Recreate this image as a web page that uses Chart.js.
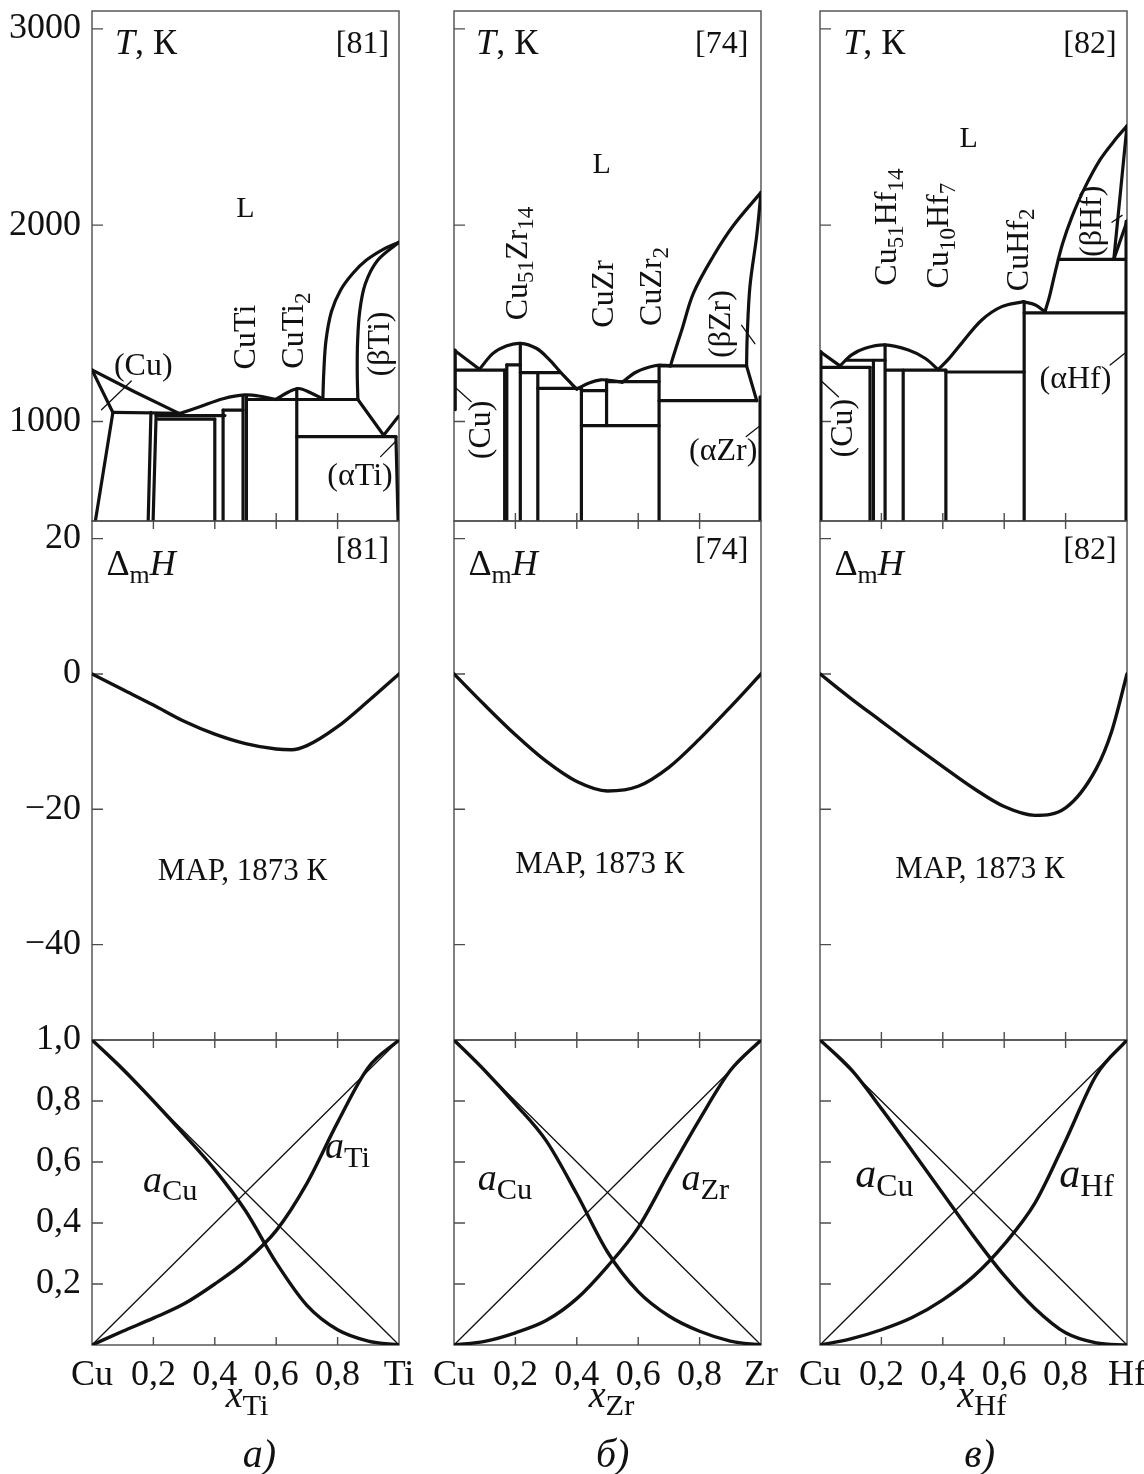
<!DOCTYPE html>
<html lang="ru">
<head>
<meta charset="utf-8">
<script src="https://cdn.jsdelivr.net/npm/chart.js@4.4.1/dist/chart.umd.min.js"></script>
<style>
  html, body { margin: 0; background: #fff; }
  #sheet { position: relative; width: 1144px; height: 1474px; background: #fff; overflow: hidden; }
  #sheet canvas { position: absolute; }
</style>
</head>
<body>
<div id="sheet"></div>
<script>
// ---------- axis ticks ----------
const tTicks = [1000, 2000, 3000];
const hTicks = [20, 0, -20, -40];
const aTicks = [0.2, 0.4, 0.6, 0.8, 1.0];
const xTickVals = [0, 0.2, 0.4, 0.6, 0.8, 1];
const innerX = [0.2, 0.4, 0.6, 0.8];

// ---------- phase diagrams: [x, T] polylines ----------
const cuTiLines = [
  [[0, 1263], [0.14, 1150], [0.285, 1040]],
  [[0, 1263], [0.068, 1046]],
  [[0.068, 1046], [0.011, 493]],
  [[0.068, 1046], [0.285, 1042]],
  [[0.192, 1046], [0.183, 493]],
  [[0.209, 1042], [0.199, 493]],
  [[0.209, 1030], [0.433, 1030]],
  [[0.215, 1012], [0.4, 1012]],
  [[0.4, 1012], [0.4, 493]],
  [[0.427, 1058], [0.427, 493]],
  [[0.427, 1058], [0.492, 1058]],
  [[0.492, 1130], [0.492, 493]],
  [[0.503, 1132], [0.503, 493]],
  [[0.503, 1112], [0.866, 1112]],
  [[0.667, 1168], [0.667, 493]],
  [[0.667, 923], [0.99, 923]],
  [[0.866, 1112], [0.95, 930]],
  [[0.95, 930], [0.998, 1025]],
  [[0.99, 923], [0.997, 493]]
];
const cuTiCurves = [
  [[0.285, 1040], [0.351, 1075], [0.427, 1116], [0.497, 1135], [0.558, 1126], [0.598, 1112]],
  [[0.598, 1112], [0.64, 1150], [0.673, 1168], [0.71, 1148], [0.752, 1115]],
  [[0.752, 1115], [0.755, 1250], [0.762, 1410], [0.78, 1560], [0.81, 1670], [0.85, 1755], [0.894, 1822], [0.95, 1878], [1, 1913]],
  [[1, 1913], [0.93, 1820], [0.89, 1700], [0.872, 1560], [0.865, 1400], [0.864, 1250], [0.866, 1112]]
];
const cuTiLeaders = [
  [[0.128, 1206], [0.031, 1060]],
  [[0.94, 821], [0.988, 897]]
];

const cuZrLines = [
  [[0, 1364], [0.083, 1266]],
  [[0.004, 1364], [0.004, 1060]],
  [[0, 1262], [0.165, 1262]],
  [[0.165, 1262], [0.165, 493]],
  [[0.172, 1288], [0.172, 493]],
  [[0.172, 1288], [0.216, 1288]],
  [[0.216, 1398], [0.216, 493]],
  [[0.216, 1249], [0.344, 1249]],
  [[0.273, 1249], [0.273, 493]],
  [[0.273, 1169], [0.415, 1169]],
  [[0.415, 1169], [0.415, 493]],
  [[0.415, 1157], [0.497, 1157]],
  [[0.497, 1212], [0.497, 979]],
  [[0.497, 1203], [0.668, 1203]],
  [[0.415, 979], [0.668, 979]],
  [[0.668, 1286], [0.668, 493]],
  [[0.668, 1283], [0.953, 1283]],
  [[0.953, 1283], [0.986, 1106]],
  [[0.668, 1106], [0.986, 1106]],
  [[0.997, 1125], [0.997, 493]]
];
const cuZrCurves = [
  [[0.083, 1266], [0.127, 1347], [0.17, 1385], [0.216, 1398], [0.268, 1373], [0.312, 1313], [0.355, 1237], [0.4, 1165]],
  [[0.4, 1165], [0.44, 1196], [0.478, 1212], [0.515, 1208], [0.548, 1200]],
  [[0.548, 1200], [0.594, 1252], [0.654, 1284], [0.69, 1286], [0.705, 1283]],
  [[0.705, 1283], [0.716, 1340], [0.742, 1466], [0.78, 1654], [0.845, 1843], [0.91, 1998], [1, 2167]],
  [[1, 2167], [0.986, 1947], [0.964, 1688], [0.955, 1430], [0.953, 1283]]
];
const cuZrLeaders = [
  [[0.007, 1169], [0.056, 1101]],
  [[0.952, 923], [1, 982]],
  [[0.937, 1490], [0.98, 1396]]
];

const cuHfLines = [
  [[0, 1356], [0.065, 1283]],
  [[0.003, 1356], [0.003, 493]],
  [[0, 1276], [0.163, 1276]],
  [[0.163, 1276], [0.163, 493]],
  [[0.085, 1312], [0.212, 1312]],
  [[0.174, 1312], [0.174, 493]],
  [[0.212, 1390], [0.212, 493]],
  [[0.217, 1262], [0.41, 1262]],
  [[0.271, 1262], [0.271, 493]],
  [[0.41, 1262], [0.41, 493]],
  [[0.41, 1252], [0.665, 1252]],
  [[0.665, 1610], [0.665, 493]],
  [[0.665, 1553], [0.995, 1553]],
  [[0.777, 1826], [1, 1826]],
  [[1, 2506], [0.957, 1826]],
  [[0.957, 1826], [1, 2020]],
  [[0.997, 2020], [0.997, 493]]
];
const cuHfCurves = [
  [[0.065, 1283], [0.103, 1339], [0.147, 1373], [0.212, 1390], [0.288, 1364], [0.342, 1322], [0.385, 1264]],
  [[0.385, 1264], [0.42, 1320], [0.461, 1398], [0.527, 1517], [0.592, 1585], [0.662, 1610]],
  [[0.662, 1610], [0.7, 1595], [0.733, 1559]],
  [[0.733, 1559], [0.748, 1640], [0.766, 1760], [0.79, 1905], [0.82, 2040], [0.859, 2180], [0.913, 2335], [0.967, 2446], [1, 2506]]
];
const cuHfLeaders = [
  [[0.001, 1211], [0.06, 1126]],
  [[0.945, 1288], [0.993, 1347]],
  [[0.951, 2015], [0.984, 2050]]
];

// ---------- enthalpy of mixing, MAP 1873 K: [x, ΔmH] ----------
const dhCuTi = [[0, 0], [0.1, -2.3], [0.2, -4.6], [0.3, -7.0], [0.4, -8.9], [0.5, -10.3], [0.6, -11.1], [0.65, -11.2], [0.7, -10.6], [0.8, -7.8], [0.9, -4.0], [1, 0]];
const dhCuZr = [[0, 0], [0.1, -4.6], [0.2, -9.0], [0.3, -12.9], [0.4, -15.9], [0.5, -17.3], [0.6, -16.6], [0.7, -13.8], [0.8, -9.6], [0.9, -4.9], [1, 0]];
const dhCuHf = [[0, 0], [0.1, -3.6], [0.2, -7.0], [0.3, -10.4], [0.4, -13.7], [0.5, -16.9], [0.6, -19.6], [0.7, -20.9], [0.8, -19.8], [0.9, -14.0], [0.95, -8.5], [1, 0]];

// ---------- activities ----------
const actX = [0, 0.1, 0.2, 0.3, 0.4, 0.5, 0.6, 0.7, 0.8, 0.9, 1];
const aCuInTi = [1, 0.905, 0.8, 0.69, 0.575, 0.44, 0.27, 0.13, 0.05, 0.013, 0];
const aTi = [0, 0.045, 0.088, 0.135, 0.2, 0.275, 0.375, 0.53, 0.73, 0.91, 1];
const aCuInZr = [1, 0.9, 0.79, 0.67, 0.495, 0.305, 0.175, 0.095, 0.045, 0.013, 0];
const aZr = [0, 0.012, 0.04, 0.08, 0.152, 0.258, 0.385, 0.565, 0.74, 0.9, 1];
const aCuInHf = [1, 0.905, 0.775, 0.637, 0.497, 0.357, 0.228, 0.12, 0.04, 0.007, 0];
const aHf = [0, 0.02, 0.05, 0.09, 0.148, 0.225, 0.33, 0.465, 0.67, 0.885, 1];
const idealLines = [[[0, 1], [1, 0]], [[0, 0], [1, 1]]];

// ---------- drawing ----------
const ink = '#111';
const frameInk = '#4d4d4d';
const serif = '"Liberation Serif", "Times New Roman", serif';
Chart.defaults.font.family = serif;
Chart.defaults.color = ink;

const sheet = document.getElementById('sheet');
const colLeft = [92, 454, 820];
const panelW = 307;
const rowBox = [
  { top: 11, bottom: 521, min: 493, max: 3091, ticks: tTicks },
  { top: 521, bottom: 1040, min: -54.1, max: 22.6, ticks: hTicks },
  { top: 1040, bottom: 1345, min: 0, max: 1, ticks: aTicks }
];
const yFormat = [
  v => String(v),
  v => v < 0 ? '\u2212' + (-v) : String(v),
  v => v.toFixed(1).replace('.', ',')
];

// text with _{subscript} and *italic* runs
function drawRich(ctx, text, x, y, o) {
  const size = o.size || 32;
  const subSize = size * (o.sub || 0.72);
  const parts = [];
  text.replace(/_\{([^}]*)\}|\*([^*]*)\*|([^_*]+)/g, (m, s, it, p) => {
    if (s !== undefined) parts.push({ str: s, font: subSize + 'px ' + serif, dy: size * 0.28 });
    else if (it !== undefined) parts.push({ str: it, font: 'italic ' + size + 'px ' + serif, dy: 0 });
    else parts.push({ str: p, font: size + 'px ' + serif, dy: 0 });
    return m;
  });
  ctx.save();
  ctx.translate(x, y);
  if (o.rot) ctx.rotate(o.rot * Math.PI / 180);
  ctx.textBaseline = 'middle';
  ctx.textAlign = 'left';
  ctx.fillStyle = ink;
  let total = 0;
  parts.forEach(p => { ctx.font = p.font; p.w = ctx.measureText(p.str).width; total += p.w; });
  let cx = o.align === 'left' ? 0 : o.align === 'right' ? -total : -total / 2;
  parts.forEach(p => { ctx.font = p.font; ctx.fillText(p.str, cx, p.dy); cx += p.w; });
  ctx.restore();
}

// frame with inward tick marks
const framePlugin = {
  id: 'frame',
  beforeDatasetsDraw(chart, args, opts) {
    const { ctx, chartArea: a, scales: { x, y } } = chart;
    ctx.save();
    ctx.strokeStyle = frameInk;
    ctx.lineWidth = 1.4;
    ctx.strokeRect(a.left, a.top, a.right - a.left, a.bottom - a.top);
    ctx.beginPath();
    (opts.left || []).forEach(v => { const p = y.getPixelForValue(v); ctx.moveTo(a.left, p); ctx.lineTo(a.left + 11, p); });
    (opts.top || []).forEach(v => { const p = x.getPixelForValue(v); ctx.moveTo(p, a.top); ctx.lineTo(p, a.top + 8); });
    (opts.bottom || []).forEach(v => { const p = x.getPixelForValue(v); ctx.moveTo(p, a.bottom); ctx.lineTo(p, a.bottom - 8); });
    ctx.stroke();
    ctx.restore();
  }
};

const notesPlugin = {
  id: 'notes',
  afterDraw(chart, args, opts) {
    const { ctx, scales: { x, y } } = chart;
    (opts.items || []).forEach(n => drawRich(ctx, n.t, x.getPixelForValue(n.x), y.getPixelForValue(n.y), n));
  }
};

function polySets(list, width, tension) {
  return list.map(pts => ({
    data: pts.map(([x, y]) => ({ x, y })),
    showLine: true, borderColor: ink, borderWidth: width, pointRadius: 0,
    tension, borderJoinStyle: 'round', borderCapStyle: 'round', fill: false
  }));
}
function seriesSet(xs, ys, width) {
  return {
    data: xs.map((x, i) => ({ x, y: ys[i] })),
    showLine: true, borderColor: ink, borderWidth: width, pointRadius: 0,
    cubicInterpolationMode: 'monotone', borderCapStyle: 'round', fill: false
  };
}

function panel(col, row, datasets, notes, xEnd) {
  const box = rowBox[row];
  const padTop = 24, axisW = 92, padRight = 32;
  const axisH = row === 2 ? 130 : 20;
  const h = box.bottom - box.top;
  const cw = axisW + panelW + padRight, ch = padTop + h + axisH;
  const canvas = document.createElement('canvas');
  canvas.width = cw; canvas.height = ch;
  canvas.style.width = cw + 'px'; canvas.style.height = ch + 'px';
  canvas.style.left = (colLeft[col] - axisW) + 'px';
  canvas.style.top = (box.top - padTop) + 'px';
  sheet.appendChild(canvas);

  new Chart(canvas, {
    type: 'scatter',
    data: { datasets },
    options: {
      responsive: false, animation: false, devicePixelRatio: 1,
      layout: { padding: { top: padTop, right: padRight, left: 0, bottom: 0 } },
      plugins: {
        legend: { display: false },
        tooltip: { enabled: false },
        frame: { left: box.ticks, top: row > 0 ? innerX : [], bottom: innerX },
        notes: { items: notes }
      },
      scales: {
        x: {
          type: 'linear', min: 0, max: 1,
          grid: { display: false }, border: { display: false },
          afterBuildTicks: s => { s.ticks = xTickVals.map(v => ({ value: v })); },
          afterFit: s => { s.height = axisH; s.paddingLeft = 0; s.paddingRight = 0; },
          ticks: {
            display: row === 2, autoSkip: false, maxRotation: 0, minRotation: 0, padding: 1,
            font: { size: 36 }, color: ink,
            callback: v => v === 0 ? 'Cu' : v === 1 ? xEnd : v.toFixed(1).replace('.', ',')
          }
        },
        y: {
          type: 'linear', min: box.min, max: box.max,
          grid: { display: false }, border: { display: false },
          afterBuildTicks: s => { s.ticks = box.ticks.map(v => ({ value: v })); },
          afterFit: s => { s.width = axisW; s.paddingTop = 0; s.paddingBottom = 0; },
          ticks: {
            display: col === 0, autoSkip: false, padding: 3,
            font: { size: 36 }, color: ink,
            callback: yFormat[row]
          }
        }
      }
    },
    plugins: [framePlugin, notesPlugin]
  });
}

// ---------- panels ----------
const systems = [
  {
    el: 'Ti', ref: '[81]', lines: cuTiLines, curves: cuTiCurves, leaders: cuTiLeaders,
    dh: dhCuTi, aCu: aCuInTi, aM: aTi, caption: '*а)*',
    phaseNotes: [
      { t: 'L', x: 0.5, y: 2080, size: 30 },
      { t: '(Cu)', x: 0.167, y: 1280, size: 32 },
      { t: 'CuTi', x: 0.504, y: 1430, size: 32, rot: -90 },
      { t: 'CuTi_{2}', x: 0.661, y: 1463, size: 32, rot: -90 },
      { t: '(βTi)', x: 0.939, y: 1395, size: 32, rot: -90 },
      { t: '(αTi)', x: 0.873, y: 719, size: 32 }
    ],
    refX: 0.968, tX: 0.075, mapX: 0.49, mapY: -29.2,
    aNotes: [
      { t: '*a*_{Cu}', x: 0.166, y: 0.535, size: 38, sub: 0.8, align: 'left' },
      { t: '*a*_{Ti}', x: 0.759, y: 0.645, size: 38, sub: 0.8, align: 'left' }
    ],
    titleX: 0.505, capX: 0.545
  },
  {
    el: 'Zr', ref: '[74]', lines: cuZrLines, curves: cuZrCurves, leaders: cuZrLeaders,
    dh: dhCuZr, aCu: aCuInZr, aM: aZr, caption: '*б)*',
    phaseNotes: [
      { t: 'L', x: 0.481, y: 2308, size: 30 },
      { t: 'Cu_{51}Zr_{14}', x: 0.21, y: 1805, size: 32, rot: -90 },
      { t: 'CuZr', x: 0.489, y: 1650, size: 32, rot: -90 },
      { t: 'CuZr_{2}', x: 0.647, y: 1688, size: 32, rot: -90 },
      { t: '(βZr)', x: 0.872, y: 1496, size: 32, rot: -90 },
      { t: '(Cu)', x: 0.09, y: 957, size: 32, rot: -90 },
      { t: '(αZr)', x: 0.877, y: 845, size: 32 }
    ],
    refX: 0.959, tX: 0.072, mapX: 0.475, mapY: -28.2,
    aNotes: [
      { t: '*a*_{Cu}', x: 0.077, y: 0.54, size: 38, sub: 0.8, align: 'left' },
      { t: '*a*_{Zr}', x: 0.741, y: 0.54, size: 38, sub: 0.8, align: 'left' }
    ],
    titleX: 0.513, capX: 0.517
  },
  {
    el: 'Hf', ref: '[82]', lines: cuHfLines, curves: cuHfCurves, leaders: cuHfLeaders,
    dh: dhCuHf, aCu: aCuInHf, aM: aHf, caption: '*в)*',
    phaseNotes: [
      { t: 'L', x: 0.484, y: 2437, size: 30 },
      { t: 'Cu_{51}Hf_{14}', x: 0.22, y: 1990, size: 32, rot: -90 },
      { t: 'Cu_{10}Hf_{7}', x: 0.391, y: 1947, size: 32, rot: -90 },
      { t: 'CuHf_{2}', x: 0.649, y: 1874, size: 32, rot: -90 },
      { t: '(βHf)', x: 0.888, y: 2020, size: 32, rot: -90 },
      { t: '(Cu)', x: 0.078, y: 966, size: 32, rot: -90 },
      { t: '(αHf)', x: 0.832, y: 1215, size: 32 }
    ],
    refX: 0.966, tX: 0.076, mapX: 0.521, mapY: -29.0,
    aNotes: [
      { t: '*a*_{Cu}', x: 0.115, y: 0.555, size: 42, sub: 0.76, align: 'left' },
      { t: '*a*_{Hf}', x: 0.779, y: 0.555, size: 42, sub: 0.76, align: 'left' }
    ],
    titleX: 0.527, capX: 0.52
  }
];

systems.forEach((s, col) => {
  // T–x phase diagram
  panel(col, 0, [
    ...polySets(s.lines, 3.2, 0),
    ...polySets(s.curves, 3.2, 0.35),
    ...polySets(s.leaders, 1.3, 0)
  ], [
    { t: '*T*, К', x: s.tX, y: 2920, size: 36, align: 'left' },
    { t: s.ref, x: s.refX, y: 2920, size: 32, align: 'right' },
    ...s.phaseNotes
  ]);

  // enthalpy of mixing
  panel(col, 1, [
    seriesSet(s.dh.map(p => p[0]), s.dh.map(p => p[1]), 3.4)
  ], [
    { t: 'Δ_{m}*H*', x: 0.047, y: 16, size: 36, align: 'left' },
    { t: s.ref, x: s.refX, y: 18.3, size: 32, align: 'right' },
    { t: 'МАР, 1873 К', x: s.mapX, y: s.mapY, size: 31 }
  ]);

  // activities
  panel(col, 2, [
    ...polySets(idealLines, 1.3, 0),
    seriesSet(actX, s.aCu, 3.4),
    seriesSet(actX, s.aM, 3.4)
  ], [
    ...s.aNotes,
    { t: '*x*_{' + s.el + '}', x: s.titleX, y: -0.17, size: 38, sub: 0.8 },
    { t: s.caption, x: s.capX, y: -0.366, size: 40 }
  ], s.el);
});
</script>
</body>
</html>
